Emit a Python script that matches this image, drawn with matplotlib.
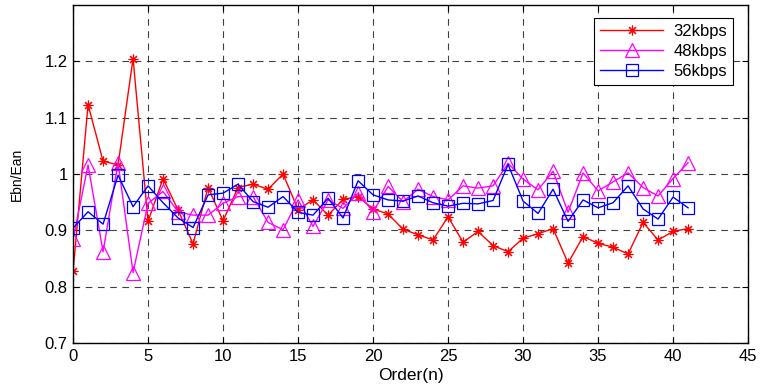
import numpy as np
import matplotlib
matplotlib.use("Agg")
import matplotlib.pyplot as plt

plt.rcParams['font.family'] = ['Liberation Sans', 'DejaVu Sans']

# order index
n = np.arange(0, 42)

# 32kbps
r32 = [0.827, 1.123, 1.023, 1.016, 1.205, 0.916, 0.992, 0.936, 0.876, 0.976,
       0.917, 0.976, 0.982, 0.973, 1.000, 0.937, 0.954, 0.927, 0.955, 0.960,
       0.938, 0.929, 0.902, 0.892, 0.883, 0.924, 0.879, 0.898, 0.873, 0.862,
       0.886, 0.894, 0.903, 0.842, 0.889, 0.877, 0.870, 0.858, 0.914, 0.883,
       0.898, 0.903]
# 48kbps
r48 = [0.884, 1.016, 0.862, 1.020, 0.825, 0.948, 0.969, 0.933, 0.927, 0.927,
       0.948, 0.960, 0.960, 0.914, 0.901, 0.954, 0.907, 0.954, 0.939, 0.966,
       0.933, 0.978, 0.951, 0.973, 0.960, 0.954, 0.979, 0.975, 0.979, 1.019,
       0.991, 0.972, 1.005, 0.932, 1.002, 0.970, 0.986, 1.002, 0.976, 0.961,
       0.992, 1.020]
# 56kbps
r56 = [0.904, 0.933, 0.911, 0.998, 0.942, 0.979, 0.949, 0.922, 0.905, 0.963,
       0.966, 0.982, 0.951, 0.941, 0.960, 0.932, 0.927, 0.957, 0.922, 0.988,
       0.963, 0.954, 0.952, 0.961, 0.949, 0.943, 0.948, 0.947, 0.953, 1.017,
       0.952, 0.930, 0.973, 0.916, 0.954, 0.940, 0.949, 0.979, 0.938, 0.920,
       0.959, 0.940]

fig = plt.figure(figsize=(7.61, 3.88), dpi=100)
ax = fig.add_axes([0.096, 0.116, 0.887, 0.871])

ax.plot(n, r32, color='red', lw=1, marker=(8, 2, 0), ms=7, mew=0.8, label='32kbps')
ax.plot(n, r48, color='magenta', lw=1, marker='^', ms=10, mfc='none', mew=0.9, label='48kbps')
ax.plot(n, r56, color='blue', lw=1, marker='s', ms=9, mfc='none', mew=0.9, label='56kbps')

ax.set_xlim(0, 45)
ax.set_ylim(0.7, 1.3)
ax.set_xticks(np.arange(0, 46, 5))
ax.set_yticks([0.7, 0.8, 0.9, 1.0, 1.1, 1.2])
ax.set_yticklabels(['0.7', '0.8', '0.9', '1', '1.1', '1.2'])
ax.grid(True, color='black', linestyle=(0, (6, 5)), linewidth=0.8, alpha=0.75)
ax.tick_params(direction='in', top=True, right=True, labelsize=12, length=4, pad=4)
for s in ax.spines.values():
    s.set_linewidth(1)

ax.set_xlabel('Order(n)', fontsize=12.5, labelpad=3)
ax.set_ylabel('Ebn/Ean', fontsize=10, labelpad=15)

leg = ax.legend(loc='upper right', fontsize=12, fancybox=False, edgecolor='black',
                framealpha=1, borderpad=0.35, handlelength=3.8, labelspacing=0.3,
                handletextpad=0.6, bbox_to_anchor=(0.99, 0.985))
leg.get_frame().set_linewidth(0.8)

fig.savefig('out.png', dpi=100)
